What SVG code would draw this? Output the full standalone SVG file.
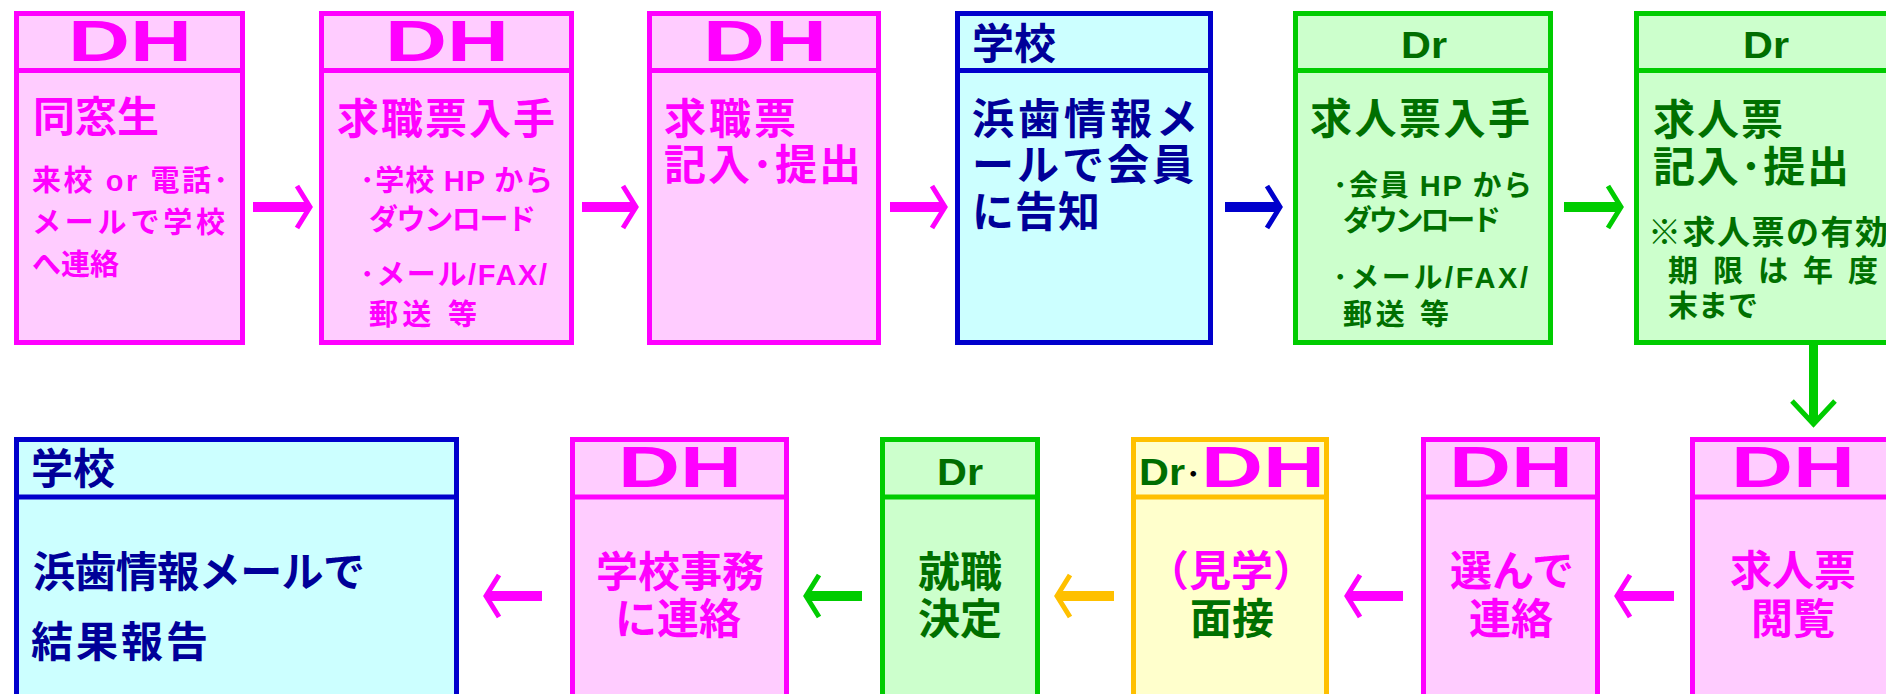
<svg xmlns="http://www.w3.org/2000/svg" width="1886" height="694" viewBox="0 0 1886 694">
<style>
.bx{stroke-width:5}
.pk{fill:#FFCCFF;stroke:#FF00FF}
.cy{fill:#CCFFFF;stroke:#0000CC}
.gr{fill:#CCFFCC;stroke:#00CC00}
.yl{fill:#FFFFCC;stroke:#FFC000}
.dv{stroke-width:5}
text{font-family:"Liberation Sans","Noto Sans CJK JP",sans-serif;font-weight:700}
.dh{font-size:57px;fill:#FF00FF;font-family:"Liberation Sans",sans-serif}
.dr{font-size:37px;fill:#006E00;font-family:"Liberation Sans",sans-serif;font-weight:700}
.L{font-size:42px}
.S{font-size:29px}
.m{fill:#FF00FF}
.b{fill:#000099}
.g{fill:#007000}
.c{text-anchor:middle}
.sh{fill:none;stroke-width:10}
.hd{fill:none;stroke-width:5;stroke-linejoin:miter}
</style>

<g id="node-dh1">
<rect class="bx pk" x="16.5" y="13.5" width="226" height="329"/>
<line class="dv" x1="16.5" y1="70.5" x2="242.5" y2="70.5" stroke="#FF00FF"/>
<text class="dh c" x="130" y="61" textLength="124" lengthAdjust="spacingAndGlyphs">DH</text>
<text class="L m" x="33" y="132">同窓生</text>
<text class="S m" x="32" y="191" textLength="196">来校 or 電話･</text>
<text class="S m" x="32" y="233" textLength="193">メールで学校</text>
<text class="S m" x="32" y="275">へ連絡</text>
</g>

<g id="node-dh2">
<rect class="bx pk" x="321.5" y="13.5" width="250" height="329"/>
<line class="dv" x1="321.5" y1="70.5" x2="571.5" y2="70.5" stroke="#FF00FF"/>
<text class="dh c" x="447" y="61" textLength="124" lengthAdjust="spacingAndGlyphs">DH</text>
<text class="L m" x="337" y="134" textLength="218">求職票入手</text>
<text class="S m" x="360" y="191" textLength="193">･学校 HP から</text>
<text class="S m" x="369" y="230" textLength="167">ダウンロード</text>
<text class="S m" x="360" y="285" textLength="187">･メール/FAX/</text>
<text class="S m" x="369" y="325" textLength="108">郵送 等</text>
</g>

<g id="node-dh3">
<rect class="bx pk" x="649.5" y="13.5" width="229" height="329"/>
<line class="dv" x1="649.5" y1="70.5" x2="878.5" y2="70.5" stroke="#FF00FF"/>
<text class="dh c" x="765" y="61" textLength="124" lengthAdjust="spacingAndGlyphs">DH</text>
<text class="L m" x="664" y="134" textLength="132">求職票</text>
<text class="L m" x="664" y="180" textLength="197">記入･提出</text>
</g>

<g id="node-school1">
<rect class="bx cy" x="957.5" y="13.5" width="253" height="329"/>
<line class="dv" x1="957.5" y1="70.5" x2="1210.5" y2="70.5" stroke="#0000CC"/>
<text class="L b" x="972" y="59">学校</text>
<text class="L b" x="972" y="134" textLength="226">浜歯情報メ</text>
<text class="L b" x="972" y="180" textLength="222">ールで会員</text>
<text class="L b" x="972" y="227" textLength="128">に告知</text>
</g>

<g id="node-dr1">
<rect class="bx gr" x="1295.5" y="13.5" width="255" height="329"/>
<line class="dv" x1="1295.5" y1="70.5" x2="1550.5" y2="70.5" stroke="#00CC00"/>
<text class="dr c" x="1424" y="58" textLength="46" lengthAdjust="spacingAndGlyphs">Dr</text>
<text class="L g" x="1310" y="134" textLength="220">求人票入手</text>
<text class="S g" x="1333" y="196" textLength="199">･会員 HP から</text>
<text class="S g" x="1343" y="231" textLength="158">ダウンロード</text>
<text class="S g" x="1333" y="288" textLength="195">･メール/FAX/</text>
<text class="S g" x="1343" y="325" textLength="106">郵送 等</text>
</g>

<g id="node-dr2">
<rect class="bx gr" x="1636.5" y="13.5" width="259" height="329"/>
<line class="dv" x1="1636.5" y1="70.5" x2="1895.5" y2="70.5" stroke="#00CC00"/>
<text class="dr c" x="1766" y="58" textLength="46" lengthAdjust="spacingAndGlyphs">Dr</text>
<text class="L g" x="1653" y="135" textLength="130">求人票</text>
<text class="L g" x="1653" y="182" textLength="196">記入･提出</text>
<text class="g" x="1648" y="244" font-size="33" textLength="240">※求人票の有効</text>
<text class="g" x="1668" y="281" font-size="30" textLength="210">期限は年度</text>
<text class="g" x="1668" y="316" font-size="30">末まで</text>
</g>

<g id="node-school2">
<rect class="bx cy" x="16.5" y="439.5" width="440" height="300"/>
<line class="dv" x1="16.5" y1="497" x2="456.5" y2="497" stroke="#0000CC"/>
<text class="L b" x="31" y="484">学校</text>
<text class="L b" x="33" y="587" textLength="332">浜歯情報メールで</text>
<text class="L b" x="31" y="657" textLength="177">結果報告</text>
</g>

<g id="node-dh4">
<rect class="bx pk" x="572.5" y="439.5" width="214" height="300"/>
<line class="dv" x1="572.5" y1="497" x2="786.5" y2="497" stroke="#FF00FF"/>
<text class="dh c" x="680" y="487" textLength="124" lengthAdjust="spacingAndGlyphs">DH</text>
<text class="L m c" x="680" y="587">学校事務</text>
<text class="L m c" x="678" y="634">に連絡</text>
</g>

<g id="node-dr3">
<rect class="bx gr" x="882.5" y="439.5" width="155" height="300"/>
<line class="dv" x1="882.5" y1="497" x2="1037.5" y2="497" stroke="#00CC00"/>
<text class="dr c" x="960" y="485" textLength="46" lengthAdjust="spacingAndGlyphs">Dr</text>
<text class="L g c" x="960" y="587">就職</text>
<text class="L g c" x="960" y="634">決定</text>
</g>

<g id="node-drdh">
<rect class="bx yl" x="1133.5" y="439.5" width="193" height="300"/>
<line class="dv" x1="1133.5" y1="497" x2="1326.5" y2="497" stroke="#FFC000"/>
<text class="dr" x="1139" y="485" textLength="46" lengthAdjust="spacingAndGlyphs">Dr</text>
<text x="1186" y="485" font-size="29" fill="#000000">･</text>
<text class="dh" x="1201" y="487" textLength="124" lengthAdjust="spacingAndGlyphs">DH</text>
<text class="L m c" x="1231" y="586">（見学）</text>
<text class="L g c" x="1232" y="634">面接</text>
</g>

<g id="node-dh5">
<rect class="bx pk" x="1423.5" y="439.5" width="174" height="300"/>
<line class="dv" x1="1423.5" y1="497" x2="1597.5" y2="497" stroke="#FF00FF"/>
<text class="dh c" x="1511" y="487" textLength="124" lengthAdjust="spacingAndGlyphs">DH</text>
<text class="L m c" x="1512" y="586">選んで</text>
<text class="L m c" x="1511" y="634">連絡</text>
</g>

<g id="node-dh6">
<rect class="bx pk" x="1692.5" y="439.5" width="202" height="300"/>
<line class="dv" x1="1692.5" y1="497" x2="1894.5" y2="497" stroke="#FF00FF"/>
<text class="dh c" x="1793" y="487" textLength="124" lengthAdjust="spacingAndGlyphs">DH</text>
<text class="L m c" x="1793" y="586">求人票</text>
<text class="L m c" x="1793" y="634">閲覧</text>
</g>

<g id="connectors">
<g stroke="#FF00FF">
<line class="sh" x1="253" y1="207" x2="308" y2="207"/><polyline class="hd" points="297,186 310,207 297,228"/>
<line class="sh" x1="582" y1="207" x2="634" y2="207"/><polyline class="hd" points="623,186 636,207 623,228"/>
<line class="sh" x1="890" y1="207" x2="943" y2="207"/><polyline class="hd" points="932,186 945,207 932,228"/>
</g>
<g stroke="#0000CC">
<line class="sh" x1="1225" y1="207" x2="1278" y2="207"/><polyline class="hd" points="1267,186 1280,207 1267,228"/>
</g>
<g stroke="#00CC00">
<line class="sh" x1="1564" y1="207" x2="1619" y2="207"/><polyline class="hd" points="1608,186 1621,207 1608,228"/>
<line stroke-width="9" x1="1813.5" y1="345" x2="1813.5" y2="422"/><polyline class="hd" points="1792,401 1813.5,424 1835,401"/>
<line class="sh" x1="808" y1="596" x2="862" y2="596"/><polyline class="hd" points="819,575 806,596 819,617"/>
</g>
<g stroke="#FF00FF">
<line class="sh" x1="488" y1="596" x2="542" y2="596"/><polyline class="hd" points="499,575 486,596 499,617"/>
<line class="sh" x1="1349" y1="596" x2="1403" y2="596"/><polyline class="hd" points="1360,575 1347,596 1360,617"/>
<line class="sh" x1="1619" y1="596" x2="1674" y2="596"/><polyline class="hd" points="1630,575 1617,596 1630,617"/>
</g>
<g stroke="#FFC000">
<line class="sh" x1="1059" y1="596" x2="1114" y2="596"/><polyline class="hd" points="1070,575 1057,596 1070,617"/>
</g>
</g>
</svg>
